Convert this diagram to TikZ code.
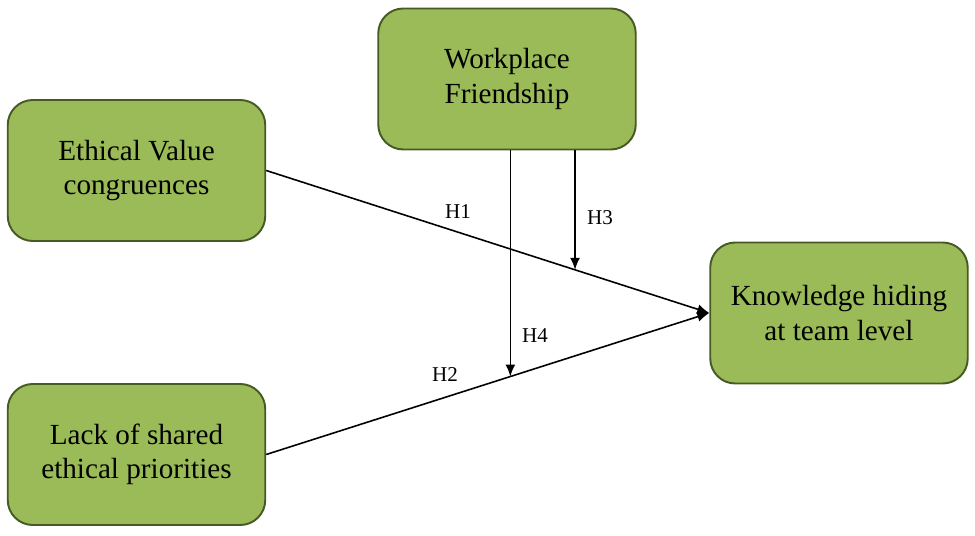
\documentclass[tikz,border=0pt]{standalone}
\usepackage{fontspec}
\setmainfont{Liberation Serif}
\usetikzlibrary{arrows.meta,positioning,calc}
\definecolor{boxfill}{RGB}{155,187,89}
\definecolor{boxline}{RGB}{70,90,35}
\tikzset{
  varbox/.style={
    draw=boxline,
    fill=boxfill,
    line width=1.1pt,
    rounded corners=0.5cm,
    minimum width=5.15cm,
    minimum height=2.82cm,
    align=center,
    font=\fontsize{16.6}{19.5}\selectfont
  },
  path_base/.style={
    line width=0.9pt,
    -{Latex[length=2.4mm,width=2mm]}
  },
  hlabel/.style={
    font=\fontsize{12}{14}\selectfont
  }
}
\begin{document}
\begin{tikzpicture}
\useasboundingbox (0,0) rectangle (19.5,-10.72);
\node[varbox] (wf) at (10.14,-1.58) {Workplace\\Friendship};
\node[varbox] (evc) at (2.73,-3.41) {Ethical Value\\congruences};
\node[varbox] (lsp) at (2.73,-9.09) {Lack of shared\\ethical priorities};
\node[varbox] (kh) at (16.78,-6.26) {Knowledge hiding\\at team level};
% direct effects
\draw[path_base] (evc.east) -- (kh.west) coordinate[pos=0.697] (m3);
\draw[path_base] (lsp.east) -- (kh.west) coordinate[pos=0.551] (m4);
% moderation
\draw[path_base] (wf.south -| m3) -- (m3);
\draw[path_base] (wf.south -| m4) -- (m4);
\node[hlabel] (h1) at (9.16,-4.24) {H1};
\node[hlabel] (h2) at (8.9,-7.5) {H2};
\node[hlabel] (h3) at (12.0,-4.36) {H3};
\node[hlabel] (h4) at (10.7,-6.72) {H4};
\end{tikzpicture}
\end{document}
